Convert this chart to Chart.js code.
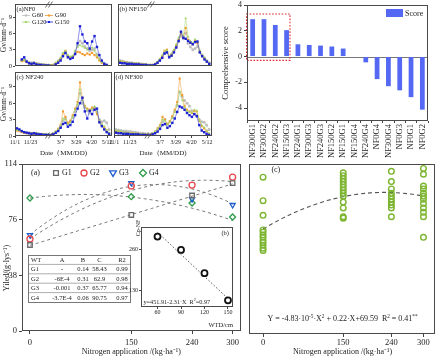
<!DOCTYPE html>
<html>
<head>
<meta charset="utf-8">
<title>Gv, comprehensive score and yield</title>
<script src="https://cdn.jsdelivr.net/npm/chart.js@4.4.1/dist/chart.umd.min.js"></script>
<style>
  body { margin: 0; background: #fff; }
  #fig { position: relative; width: 441px; height: 360px; overflow: hidden; background: #fff; }
  #fig canvas { position: absolute; }
</style>
</head>
<body>
<div id="fig">
  <canvas id="tsA" width="116" height="70" style="left:0;top:0"></canvas>
  <canvas id="tsB" width="102" height="70" style="left:114px;top:0"></canvas>
  <canvas id="tsC" width="116" height="92" style="left:0;top:68px"></canvas>
  <canvas id="tsD" width="112" height="92" style="left:104px;top:68px"></canvas>
  <canvas id="score" width="226" height="185" style="left:215px;top:0"></canvas>
  <canvas id="yieldA" width="246" height="205" style="left:0;top:155px"></canvas>
  <canvas id="inset" width="119" height="124" style="left:121px;top:210px"></canvas>
  <canvas id="yieldC" width="197" height="205" style="left:244px;top:155px"></canvas>
</div>
<script>
// ---------- Gv time series (x = compressed date axis, 11/1 = 0, winter gap squeezed)
const dateTicks = ["11/1", "11/23", "3/7", "3/29", "4/20", "5/12"];
const dateTickPos = [0, 16, 47, 63, 79, 95];
const gvBreakPos = 35;
const gvYTicks = [0, 3, 6, 9];
const gvGroups = ["G60", "G90", "G120", "G150"];
const gvX = [2, 4.5, 7, 9.5, 12, 14.5, 17, 19.5, 22, 24.5, 27, 29.5, 32, 34.5, 37, 39.5, 42, 44.5, 47, 49.5,
  52, 54.5, 57, 59.5, 62, 64.5, 67, 69.5, 72, 74.5, 77, 79.5, 82, 84.5, 87, 89.5, 92, 94.5, 97];

const nf0G60 = [null, null, 1.1, 1.2, 0.9, 0.7, 0.6, 0.7, 0.5, 0.4, 0.3, 0.3, 0.2, 0.2, 0.1, 0.2, 0.5, 0.9, 1.4, 2.3,
  2.6, 1.9, 1.6, 1.8, 2.6, 3.8, 4.6, 4.2, 3.6, 3.2, 2.8, 3.0, 3.2, 2.2, 1.4, 0.8, 0.5, 0.2, null];
const nf0G90 = [null, null, 0.9, 1.0, 0.7, 0.5, 0.4, 0.5, 0.4, 0.3, 0.2, 0.2, 0.2, 0.1, 0.1, 0.2, 0.5, 0.9, 1.3, 2.2,
  2.8, 1.8, 1.5, 1.7, 2.2, 2.6, 2.5, 2.2, 2.0, 2.3, 2.1, 2.4, 2.0, 1.6, 1.0, 0.6, 0.3, 0.1, null];
const nf0G120 = [null, null, 1.0, 1.1, 0.8, 0.6, 0.5, 0.6, 0.4, 0.3, 0.3, 0.2, 0.2, 0.2, 0.1, 0.2, 0.6, 1.0, 1.5, 2.4,
  2.7, 2.0, 1.7, 1.9, 2.8, 3.5, 3.8, 3.6, 3.3, 3.0, 3.1, 3.4, 2.8, 1.9, 1.2, 0.7, 0.4, 0.2, null];
const nf0G150 = [null, null, 1.2, 1.6, 0.8, 0.5, 0.4, 0.5, 0.3, 0.2, 0.2, 0.1, 0.1, 0.1, 0.0, 0.0, 0.3, 0.6, 1.0, 1.8,
  2.4, 1.6, 1.3, 1.5, 2.2, 4.2, 7.3, 5.8, 4.5, 4.2, 3.2, 4.5, 5.5, 3.5, 2.0, 1.0, 0.4, 0.2, null];

const nf150G60 = [1.0, 0.9, 0.8, 0.7, 0.6, 0.6, 0.5, 0.5, 0.5, 0.4, 0.3, 0.3, 0.2, 0.2, 0.2, 0.3, 0.6, 1.0, 1.5, 2.3,
  2.6, 1.8, 2.0, 2.8, 3.5, 4.5, 5.5, 5.0, 6.0, 4.2, 3.5, 3.0, 3.2, 3.6, 2.6, 2.0, 1.5, 1.0, 0.6];
const nf150G90 = [0.9, 0.8, 0.7, 0.6, 0.5, 0.5, 0.5, 0.4, 0.4, 0.3, 0.3, 0.2, 0.2, 0.2, 0.2, 0.4, 0.7, 1.2, 1.8, 2.8,
  3.0, 1.7, 2.2, 2.9, 3.8, 4.8, 6.0, 5.2, 7.0, 4.8, 4.3, 4.0, 4.6, 4.2, 2.6, 1.8, 1.4, 0.8, 0.4];
const nf150G120 = [0.9, 0.8, 0.7, 0.6, 0.6, 0.5, 0.5, 0.4, 0.4, 0.3, 0.3, 0.3, 0.2, 0.2, 0.2, 0.4, 0.8, 1.3, 2.0, 2.7,
  2.9, 1.9, 2.3, 3.0, 4.0, 5.2, 6.4, 5.6, 8.8, 5.4, 4.6, 4.2, 4.9, 4.5, 2.9, 2.0, 1.5, 0.9, 0.5];
const nf150G150 = [0.6, 0.5, 0.5, 0.4, 0.4, 0.4, 0.3, 0.3, 0.3, 0.2, 0.2, 0.2, 0.1, 0.1, 0.1, 0.3, 0.6, 1.0, 1.5, 2.3,
  2.5, 1.6, 1.9, 2.5, 3.4, 4.6, 6.3, 5.2, 5.0, 4.6, 4.3, 4.0, 4.4, 4.5, 2.5, 1.8, 1.2, 0.8, 0.4];

const nf240G60 = [1.2, 1.0, 0.8, 0.7, 0.6, 0.6, 0.5, 0.5, 0.5, 0.4, 0.3, 0.3, 0.3, 0.2, 0.2, 0.3, 0.6, 1.0, 1.6, 2.8,
  3.2, 2.2, 2.6, 3.4, 4.5, 5.5, 7.8, 6.0, 5.2, 4.6, 4.2, 4.8, 5.2, 4.4, 3.0, 2.6, 2.8, 2.4, 1.2];
const nf240G90 = [1.0, 0.9, 0.7, 0.6, 0.5, 0.5, 0.5, 0.4, 0.4, 0.3, 0.3, 0.3, 0.2, 0.2, 0.2, 0.4, 0.8, 1.3, 2.0, 4.5,
  3.5, 2.4, 2.8, 3.8, 5.0, 6.2, 9.8, 7.0, 5.5, 5.0, 4.8, 5.2, 5.0, 4.0, 2.6, 2.0, 1.6, 1.0, 0.5];
const nf240G120 = [1.1, 1.0, 0.8, 0.7, 0.6, 0.5, 0.5, 0.5, 0.4, 0.4, 0.3, 0.3, 0.3, 0.2, 0.2, 0.4, 0.8, 1.2, 1.9, 3.2,
  3.0, 2.1, 2.5, 3.5, 4.8, 5.8, 8.5, 6.5, 5.4, 4.8, 4.5, 5.0, 5.4, 4.5, 2.8, 2.2, 1.8, 1.1, 0.6];
const nf240G150 = [1.4, 1.2, 0.9, 0.7, 0.6, 0.5, 0.4, 0.5, 0.4, 0.3, 0.3, 0.2, 0.2, 0.2, 0.1, 0.3, 0.6, 0.9, 1.5, 2.2,
  2.4, 1.7, 2.0, 2.6, 3.8, 5.0, 6.0, 7.0, 4.5, 3.2, 4.6, 4.0, 4.8, 5.0, 2.5, 1.8, 1.2, 0.7, 0.4];

const nf300G60 = [1.2, 1.1, 1.0, 0.9, 0.9, 0.8, 0.8, 0.7, 0.7, 0.6, 0.5, 0.5, 0.4, 0.4, 0.3, 0.4, 0.7, 1.1, 1.7, 2.6,
  3.0, 2.2, 2.6, 3.4, 4.5, 5.6, 8.0, 7.2, 6.5, 6.0, 5.5, 4.6, 4.0, 3.8, 3.0, 2.6, 2.5, 2.0, 1.2];
const nf300G90 = [0.9, 0.8, 0.7, 0.6, 0.6, 0.5, 0.5, 0.5, 0.4, 0.4, 0.3, 0.3, 0.3, 0.2, 0.2, 0.4, 0.8, 1.4, 2.0, 3.5,
  3.0, 2.2, 2.7, 3.6, 4.8, 6.2, 10.5, 7.5, 5.5, 4.8, 4.5, 4.2, 4.6, 4.5, 2.8, 1.8, 1.4, 0.9, 0.4];
const nf300G120 = [1.0, 0.9, 0.8, 0.7, 0.6, 0.6, 0.5, 0.5, 0.5, 0.4, 0.4, 0.3, 0.3, 0.2, 0.2, 0.4, 0.8, 1.3, 1.9, 3.0,
  2.8, 2.0, 2.5, 3.3, 4.4, 5.6, 8.2, 6.6, 5.2, 4.6, 4.4, 4.3, 4.8, 4.6, 2.9, 2.0, 1.6, 1.0, 0.5];
const nf300G150 = [0.6, 0.5, 0.5, 0.4, 0.4, 0.4, 0.3, 0.3, 0.3, 0.3, 0.2, 0.2, 0.2, 0.1, 0.1, 0.3, 0.5, 0.8, 1.3, 2.0,
  2.2, 1.5, 1.8, 2.4, 3.2, 4.4, 5.4, 5.2, 4.8, 4.2, 3.8, 3.5, 4.0, 3.6, 2.0, 1.0, 0.7, 0.4, 0.2];

// ---------- comprehensive score
const scoreLabels = ["NF300G1", "NF300G2", "NF240G2", "NF150G3", "NF240G1", "NF300G3", "NF240G3", "NF150G2",
  "NF150G1", "NF150G4", "NF240G4", "NF0G4", "NF300G4", "NF0G3", "NF0G1", "NF0G2"];
const scores = [2.9, 2.9, 2.45, 2.05, 0.95, 0.9, 0.85, 0.78, 0.62, -0.05, -0.45, -1.75, -2.3, -2.62, -3.15, -4.12];
const scoreTicks = [-4, -2, 0, 2, 4];
const highlightRange = [3.3, -0.3];

// ---------- yield vs nitrogen
const nRates = [0, 150, 240, 300];
const yieldTicks = [0, 38, 76, 114];
const genoLabels = ["G1", "G2", "G3", "G4"];
const yieldG1 = [58.7, 79.2, 92.5, 101];
const yieldG2 = [62.8, 99, 99.6, 105];
const yieldG3 = [65.5, 101, 90, 86];
const yieldG4 = [90.8, 91.7, 87.4, 77.8];
const fitG1 = [0, 0.14, 58.43];
const fitG2 = [-6e-4, 0.31, 62.9];
const fitG3 = [-0.001, 0.37, 65.77];
const fitG4 = [-3.7e-4, 0.06, 90.75];
const tableHead = ["WT", "A", "B", "C", "R2"];
const tableRows = [
  ["G1", "-", "0.14", "58.43", "0.99"],
  ["G2", "-6E-4", "0.31", "62.9", "0.98"],
  ["G3", "-0.001", "0.37", "65.77", "0.94"],
  ["G4", "-3.7E-4", "0.06", "90.75", "0.97"],
];

// ---------- inset (b)
const wtd = [60, 90, 120, 150];
const cpNF = [300, 258, 185, 100];
const cpFit = [451.91, -2.31];
const cpTicks = [130, 260];

// ---------- panel (c), all yields per nitrogen rate
const cN0 = [105, 89, 79, 69, 67.5, 65.5, 64, 62, 60.5, 58.5, 56.5, 55];
const cN150 = [108, 106, 104, 102, 100, 98, 96, 94, 92, 88, 84, 78, 77];
const cN240 = [109, 102, 97, 94, 92, 90, 88, 86, 84, 78];
const cN300 = [111, 107, 99, 97, 94, 92, 90, 87, 84, 81, 78, 64];
const cFit = [-4.83e-4, 0.22, 69.59];

// ---------- shared look
const serif = "'Liberation Serif', 'Times New Roman', serif";
const f = (s) => s + "px " + serif;
Chart.defaults.font.family = serif;
Chart.defaults.font.size = 8;
Chart.defaults.color = "#222";
Chart.defaults.animation = false;
Chart.defaults.responsive = false;
Chart.defaults.plugins.legend.display = false;
Chart.defaults.plugins.tooltip.enabled = false;

const gvColors = ["#bdbdbd", "#f4992a", "#a3d66a", "#1c22d4"];
const gvMarkers = ["circle", "rect", "triangle", "rect"];
const gColors = ["#6b6b6b", "#e5474b", "#1f5fcf", "#2f9d4b"];
const gMarkers = ["rect", "circle", "triangle", "rectRot"];

// box round every plot area
Chart.register({
  id: "frame",
  afterDraw(chart) {
    const a = chart.chartArea, ctx = chart.ctx;
    ctx.save();
    ctx.strokeStyle = "#4a4a4a";
    ctx.lineWidth = 1;
    ctx.strokeRect(Math.round(a.left) + 0.5, Math.round(a.top) + 0.5,
      Math.round(a.right - a.left) - 1, Math.round(a.bottom - a.top) - 1);
    ctx.restore();
  },
});

function marker(ctx, style, x, y, color) {
  ctx.save();
  ctx.strokeStyle = color;
  ctx.lineWidth = 1.3;
  ctx.beginPath();
  if (style === "rect") ctx.rect(x - 2.4, y - 2.4, 4.8, 4.8);
  else if (style === "circle") ctx.arc(x, y, 3, 0, Math.PI * 2);
  else if (style === "triangle") { ctx.moveTo(x - 3.4, y - 2.2); ctx.lineTo(x + 3.4, y - 2.2); ctx.lineTo(x, y + 3.4); ctx.closePath(); }
  else { ctx.moveTo(x, y - 3.5); ctx.lineTo(x + 3.5, y); ctx.lineTo(x, y + 3.5); ctx.lineTo(x - 3.5, y); ctx.closePath(); }
  ctx.stroke();
  ctx.restore();
}

// text with superscript pieces: parts = [[text, isSup], ...]
function richText(ctx, parts, x, y, size, align) {
  let w = 0;
  parts.forEach(([t, sup]) => { ctx.font = f(sup ? size * 0.65 : size); w += ctx.measureText(t).width; });
  let cx = align === "center" ? x - w / 2 : x;
  ctx.textAlign = "left";
  ctx.textBaseline = "middle";
  parts.forEach(([t, sup]) => {
    ctx.font = f(sup ? size * 0.65 : size);
    ctx.fillText(t, cx, sup ? y - size * 0.35 : y);
    cx += ctx.measureText(t).width;
  });
}

// ---------- Gv panels
const tsDecor = {
  id: "tsDecor",
  afterDraw(chart, args, opts) {
    const { ctx, chartArea: a } = chart;
    const x = chart.scales.x;
    ctx.save();
    ctx.fillStyle = "#222";
    ctx.font = f(6.5);
    ctx.textBaseline = "middle";
    ctx.textAlign = "left";
    ctx.fillText(opts.tag, a.left + 1.5, a.top + 5);
    // axis break
    const bx = x.getPixelForValue(gvBreakPos);
    const by = opts.breakTop ? a.top + 0.5 : a.bottom - 0.5;
    ctx.strokeStyle = "#444";
    ctx.lineWidth = 0.8;
    [-1.5, 1.5].forEach((dx) => {
      ctx.beginPath();
      ctx.moveTo(bx + dx - 2, by + 3);
      ctx.lineTo(bx + dx + 2, by - 3);
      ctx.stroke();
    });
    if (opts.legend) {
      const pos = [[22, 15.5], [45, 15.5], [22, 22], [45, 22]];
      chart.data.datasets.forEach((ds, k) => {
        const [lx, ly] = pos[k];
        ctx.strokeStyle = ds.borderColor;
        ctx.lineWidth = 0.8;
        ctx.beginPath(); ctx.moveTo(lx, ly); ctx.lineTo(lx + 8, ly); ctx.stroke();
        ctx.fillStyle = ds.borderColor;
        ctx.fillRect(lx + 3, ly - 1, 2, 2);
        ctx.fillStyle = "#222";
        ctx.fillText(ds.label, lx + 10, ly);
      });
    }
    ctx.restore();
  },
};

function gvPanel(id, series, o) {
  new Chart(document.getElementById(id), {
    type: "scatter",
    data: {
      datasets: series.map((vals, k) => ({
        label: gvGroups[k],
        data: gvX.map((x, i) => ({ x: x, y: vals[i] })),
        showLine: true,
        borderColor: gvColors[k],
        backgroundColor: gvColors[k],
        borderWidth: 0.5,
        pointStyle: gvMarkers[k],
        pointRadius: k === 3 ? 1.7 : 1.5,
        pointBorderWidth: 0,
        order: 3 - k,
      })),
    },
    options: {
      layout: { padding: o.padding },
      scales: {
        x: o.bottom ? {
          type: "linear", min: 0, max: 100,
          afterBuildTicks: (s) => { s.ticks = dateTickPos.map((v) => ({ value: v })); },
          afterFit: (s) => { s.height = 24; s.paddingLeft = 0; s.paddingRight = 0; },
          ticks: { font: { size: 6 }, padding: 1, maxRotation: 0, autoSkip: false,
            callback: (v) => dateTicks[dateTickPos.indexOf(v)] },
          grid: { drawOnChartArea: false, tickLength: 2, color: "#444" },
          border: { display: false },
          title: { display: true, text: "Date（MM/DD)", font: { size: 7 }, padding: { top: 0, bottom: 3 } },
        } : { type: "linear", min: 0, max: 100, display: false },
        y: o.left ? {
          min: 0, max: o.ymax,
          afterBuildTicks: (s) => { s.ticks = gvYTicks.map((v) => ({ value: v })); },
          afterFit: (s) => { s.width = 15; s.paddingTop = 0; s.paddingBottom = 0; },
          ticks: { font: { size: 6.5 }, padding: 1 },
          grid: { drawOnChartArea: false, tickLength: 2, color: "#444" },
          border: { display: false },
          title: { display: true, text: "Gv/mm·d⁻¹", font: { size: 7.5 }, padding: 0 },
        } : { min: 0, max: o.ymax, display: false },
      },
      plugins: { tsDecor: { tag: o.tag, breakTop: !o.bottom, legend: !!o.legend } },
    },
    plugins: [tsDecor],
  });
}

gvPanel("tsA", [nf0G60, nf0G90, nf0G120, nf0G150],
  { tag: "(a)NF0", left: true, bottom: false, legend: true, ymax: 11.4, padding: { top: 3, right: 1, bottom: 1, left: 0 } });
gvPanel("tsB", [nf150G60, nf150G90, nf150G120, nf150G150],
  { tag: "(b) NF150", left: false, bottom: false, ymax: 11.4, padding: { top: 3, right: 1, bottom: 1, left: 0 } });
gvPanel("tsC", [nf240G60, nf240G90, nf240G120, nf240G150],
  { tag: "(c) NF240", left: true, bottom: true, ymax: 11.7, padding: { top: 0, right: 1, bottom: 0, left: 0 } });
gvPanel("tsD", [nf300G60, nf300G90, nf300G120, nf300G150],
  { tag: "(d) NF300", left: false, bottom: true, ymax: 11.7, padding: { top: 0, right: 1, bottom: 0, left: 10 } });

// ---------- comprehensive score bars
const scoreDecor = {
  id: "scoreDecor",
  beforeDatasetsDraw(chart) {
    const { ctx, chartArea: a, scales: { y } } = chart;
    const y0 = Math.round(y.getPixelForValue(0)) + 0.5;
    ctx.save();
    ctx.strokeStyle = "#777";
    ctx.lineWidth = 1;
    ctx.beginPath(); ctx.moveTo(a.left, y0); ctx.lineTo(a.right, y0); ctx.stroke();
    ctx.restore();
  },
  afterDatasetsDraw(chart) {
    const { ctx, chartArea: a, scales: { x, y } } = chart;
    const half = (x.getPixelForValue(1) - x.getPixelForValue(0)) / 2;
    const l = x.getPixelForValue(0) - half - 0.5;
    const r = x.getPixelForValue(3) + half * 0.6;
    const t = y.getPixelForValue(highlightRange[0]);
    const b = y.getPixelForValue(highlightRange[1]);
    ctx.save();
    ctx.strokeStyle = "#e0262b";
    ctx.lineWidth = 1.1;
    ctx.setLineDash([1.6, 1.6]);
    ctx.strokeRect(l, t, r - l, b - t);
    ctx.setLineDash([]);
    const ds = chart.data.datasets[0];
    ctx.fillStyle = ds.backgroundColor;
    ctx.fillRect(a.right - 42, a.top + 4, 17, 8);
    ctx.fillStyle = "#222";
    ctx.font = f(8);
    ctx.textAlign = "left";
    ctx.textBaseline = "middle";
    ctx.fillText(ds.label, a.right - 23, a.top + 8.5);
    ctx.restore();
  },
};

new Chart(document.getElementById("score"), {
  type: "bar",
  data: {
    labels: scoreLabels,
    datasets: [{ label: "Score", data: scores, backgroundColor: "#5468f4", barPercentage: 0.42, categoryPercentage: 1 }],
  },
  options: {
    layout: { padding: { top: 5, right: 13, bottom: 0, left: 0 } },
    scales: {
      x: {
        afterFit: (s) => { s.height = 64; s.paddingLeft = 0; s.paddingRight = 0; },
        ticks: { font: { size: 8.5 }, minRotation: 90, maxRotation: 90, autoSkip: false, padding: 1 },
        grid: { drawOnChartArea: false, tickLength: 2, color: "#444" },
        border: { display: false },
      },
      y: {
        min: -5, max: 4,
        afterBuildTicks: (s) => { s.ticks = scoreTicks.map((v) => ({ value: v })); },
        afterFit: (s) => { s.width = 32; s.paddingTop = 0; s.paddingBottom = 0; },
        ticks: { font: { size: 8 }, padding: 2 },
        grid: { drawOnChartArea: false, tickLength: 3, color: "#444" },
        border: { display: false },
        title: { display: true, text: "Comprehensive score", font: { size: 8.5 }, padding: { top: 6, bottom: 0 } },
      },
    },
  },
  plugins: [scoreDecor],
});

// ---------- yield vs nitrogen, panel (a)
function fitLine(coef, x0, x1) {
  const pts = [];
  for (let x = x0; x <= x1; x += 10) pts.push({ x: x, y: coef[0] * x * x + coef[1] * x + coef[2] });
  return pts;
}

const yieldDecor = {
  id: "yieldDecor",
  afterDraw(chart) {
    const { ctx, chartArea: a } = chart;
    ctx.save();
    ctx.fillStyle = "#222";
    // y title
    ctx.save();
    ctx.translate(7, a.top + 104);
    ctx.rotate(-Math.PI / 2);
    ctx.font = f(8);
    ctx.textAlign = "center";
    ctx.textBaseline = "middle";
    ctx.fillText("Yiled/(g·lys⁻¹)", 0, 0);
    ctx.restore();
    // legend row
    ctx.font = f(8);
    ctx.textAlign = "left";
    ctx.textBaseline = "middle";
    const ly = a.top + 9;
    ctx.fillText("(a)", a.left + 9, ly);
    const mx = [34, 62, 91, 121];
    genoLabels.forEach((g, k) => {
      marker(ctx, gMarkers[k], a.left + mx[k], ly, gColors[k]);
      ctx.fillStyle = "#222";
      ctx.font = f(8);
      ctx.fillText(g, a.left + mx[k] + 6, ly);
    });
    // coefficient table
    const tx = a.left + 6, ty = a.top + 91, tw = 102, rh = 9.4;
    const colX = [3, 34, 55, 71.5, 94];
    const rows = [tableHead].concat(tableRows);
    ctx.fillStyle = "#fff";
    ctx.fillRect(tx, ty, tw, rh * rows.length);
    ctx.strokeStyle = "#999";
    ctx.lineWidth = 0.8;
    for (let i = 1; i < rows.length; i++) {
      ctx.beginPath(); ctx.moveTo(tx, ty + rh * i); ctx.lineTo(tx + tw, ty + rh * i); ctx.stroke();
    }
    ctx.strokeStyle = "#777";
    ctx.lineWidth = 1;
    ctx.strokeRect(tx + 0.5, ty + 0.5, tw, rh * rows.length);
    ctx.fillStyle = "#222";
    ctx.font = f(6.5);
    rows.forEach((row, i) => {
      row.forEach((cell, j) => {
        ctx.textAlign = j === 0 ? "left" : "center";
        ctx.fillText(cell, tx + colX[j], ty + rh * i + rh / 2 + 0.5);
      });
    });
    ctx.restore();
  },
};

const yieldSeries = [yieldG1, yieldG2, yieldG3, yieldG4];
const fitSeries = [fitG1, fitG2, fitG3, fitG4];

new Chart(document.getElementById("yieldA"), {
  type: "scatter",
  data: {
    datasets: yieldSeries.map((vals, k) => ({
      label: genoLabels[k],
      data: nRates.map((x, i) => ({ x: x, y: vals[i] })),
      pointStyle: gMarkers[k],
      pointRotation: k === 2 ? 180 : 0,
      pointRadius: k === 0 ? 3.2 : 3,
      pointBorderWidth: 1.3,
      borderColor: gColors[k],
      backgroundColor: "rgba(255,255,255,0)",
      order: 0,
    })).concat(fitSeries.map((c) => ({
      data: fitLine(c, 0, 300),
      showLine: true,
      borderColor: "#777",
      borderWidth: 1,
      borderDash: [3, 3],
      pointRadius: 0,
      order: 1,
    }))),
  },
  options: {
    layout: { padding: { top: 9, right: 4, bottom: 0, left: 0 } },
    scales: {
      x: {
        type: "linear", min: -11.8, max: 312,
        afterBuildTicks: (s) => { s.ticks = nRates.map((v) => ({ value: v })); },
        afterFit: (s) => { s.height = 29; s.paddingLeft = 0; s.paddingRight = 0; },
        ticks: { font: { size: 8.5 }, padding: 4 },
        grid: { drawOnChartArea: false, tickLength: 3, color: "#444" },
        border: { display: false },
        title: { display: true, text: "Nitrogen application /(kg·ha⁻¹)", font: { size: 8 }, padding: { top: 0, bottom: 3 } },
      },
      y: {
        min: 0, max: 114,
        afterBuildTicks: (s) => { s.ticks = yieldTicks.map((v) => ({ value: v })); },
        afterFit: (s) => { s.width = 22; s.paddingTop = 0; s.paddingBottom = 0; },
        ticks: { font: { size: 8.5 }, padding: 2 },
        grid: { drawOnChartArea: false, tickLength: 3, color: "#444" },
        border: { display: false },
      },
    },
  },
  plugins: [yieldDecor],
});

// ---------- inset (b)
const insetDecor = {
  id: "insetDecor",
  beforeDatasetsDraw(chart) {
    const { ctx, chartArea: a } = chart;
    ctx.save();
    ctx.fillStyle = "#fff";
    ctx.fillRect(a.left, a.top, a.right - a.left, a.bottom - a.top);
    ctx.restore();
  },
  afterDraw(chart) {
    const { ctx, chartArea: a } = chart;
    ctx.save();
    ctx.fillStyle = "#222";
    ctx.font = f(6.5);
    ctx.textAlign = "right";
    ctx.textBaseline = "middle";
    ctx.fillText("(b)", a.right - 4, a.top + 6);
    ctx.save();
    ctx.translate(a.left - 3, a.top + 1);
    ctx.rotate(-Math.PI / 2);
    ctx.textAlign = "center";
    ctx.font = f(6);
    ctx.fillText("Cp-NF", 0, 0);
    ctx.restore();
    richText(ctx, [["y=451.91-2.31·X  R", 0], ["2", 1], ["=0.97", 0]], a.left + 2.5, a.bottom - 5, 6.2, "left");
    ctx.restore();
  },
};

new Chart(document.getElementById("inset"), {
  type: "scatter",
  data: {
    datasets: [
      {
        data: wtd.map((x, i) => ({ x: x, y: cpNF[i] })),
        pointStyle: "circle",
        pointRadius: 3,
        pointBorderWidth: 1.8,
        borderColor: "#111",
        backgroundColor: "rgba(255,255,255,0)",
        order: 0,
      },
      {
        data: [wtd[0], wtd[wtd.length - 1]].map((x) => ({ x: x, y: cpFit[0] + cpFit[1] * x })),
        showLine: true,
        borderColor: "#555",
        borderWidth: 1,
        borderDash: [1.5, 2],
        pointRadius: 0,
        order: 1,
      },
    ],
  },
  options: {
    layout: { padding: { top: 17, right: 7, bottom: 0, left: 0 } },
    scales: {
      x: {
        type: "linear", min: 38.9, max: 156.4,
        afterBuildTicks: (s) => { s.ticks = wtd.map((v) => ({ value: v })); },
        afterFit: (s) => { s.height = 27; s.paddingLeft = 0; s.paddingRight = 0; },
        ticks: { font: { size: 6 }, padding: 0 },
        grid: { drawOnChartArea: false, tickLength: 2, color: "#444" },
        border: { display: false },
        title: { display: true, text: "WTD/cm", align: "end", font: { size: 6.5 }, padding: { top: 0, bottom: 5 } },
      },
      y: {
        min: 79, max: 330,
        afterBuildTicks: (s) => { s.ticks = cpTicks.map((v) => ({ value: v })); },
        afterFit: (s) => { s.width = 20; s.paddingTop = 0; s.paddingBottom = 0; },
        ticks: { font: { size: 6 }, padding: 1 },
        grid: { drawOnChartArea: false, tickLength: 2, color: "#444" },
        border: { display: false },
      },
    },
  },
  plugins: [insetDecor],
});

// ---------- panel (c)
const cDecor = {
  id: "cDecor",
  afterDraw(chart) {
    const { ctx, chartArea: a } = chart;
    ctx.save();
    ctx.fillStyle = "#222";
    ctx.font = f(8);
    ctx.textAlign = "left";
    ctx.textBaseline = "middle";
    ctx.fillText("(c)", a.left + 22, a.top + 6);
    richText(ctx, [["Y = -4.83·10", 0], ["-5", 1], ["·X", 0], ["2", 1], [" + 0.22·X+69.59  R", 0], ["2", 1],
      [" = 0.41", 0], ["**", 1]], (a.left + a.right) / 2, a.bottom - 15, 8, "center");
    ctx.restore();
  },
};

const cGroups = [[nRates[0], cN0], [nRates[1], cN150], [nRates[2], cN240], [nRates[3], cN300]];

new Chart(document.getElementById("yieldC"), {
  type: "scatter",
  data: {
    datasets: [
      {
        data: cGroups.flatMap(([n, vals]) => vals.map((v) => ({ x: n, y: v }))),
        pointStyle: "circle",
        pointRadius: 2.8,
        pointBorderWidth: 1.4,
        borderColor: "#7cb530",
        backgroundColor: "rgba(255,255,255,0)",
        order: 0,
      },
      {
        data: fitLine(cFit, 0, 300),
        showLine: true,
        borderColor: "#555",
        borderWidth: 1.1,
        borderDash: [4, 3],
        pointRadius: 0,
        order: 1,
      },
    ],
  },
  options: {
    layout: { padding: { top: 9, right: 2, bottom: 0, left: 3 } },
    scales: {
      x: {
        type: "linear", min: -25.5, max: 322.7,
        afterBuildTicks: (s) => { s.ticks = nRates.map((v) => ({ value: v })); },
        afterFit: (s) => { s.height = 26; s.paddingLeft = 0; s.paddingRight = 0; },
        ticks: { font: { size: 8.5 }, padding: 1 },
        grid: { drawOnChartArea: false, tickLength: 3, color: "#444" },
        border: { display: false },
        title: { display: true, text: "Nitrogen application /(kg·ha⁻¹)", font: { size: 8 }, padding: { top: 0, bottom: 3 } },
      },
      y: { min: -2, max: 114, display: false },
    },
  },
  plugins: [cDecor],
});
</script>
</body>
</html>
